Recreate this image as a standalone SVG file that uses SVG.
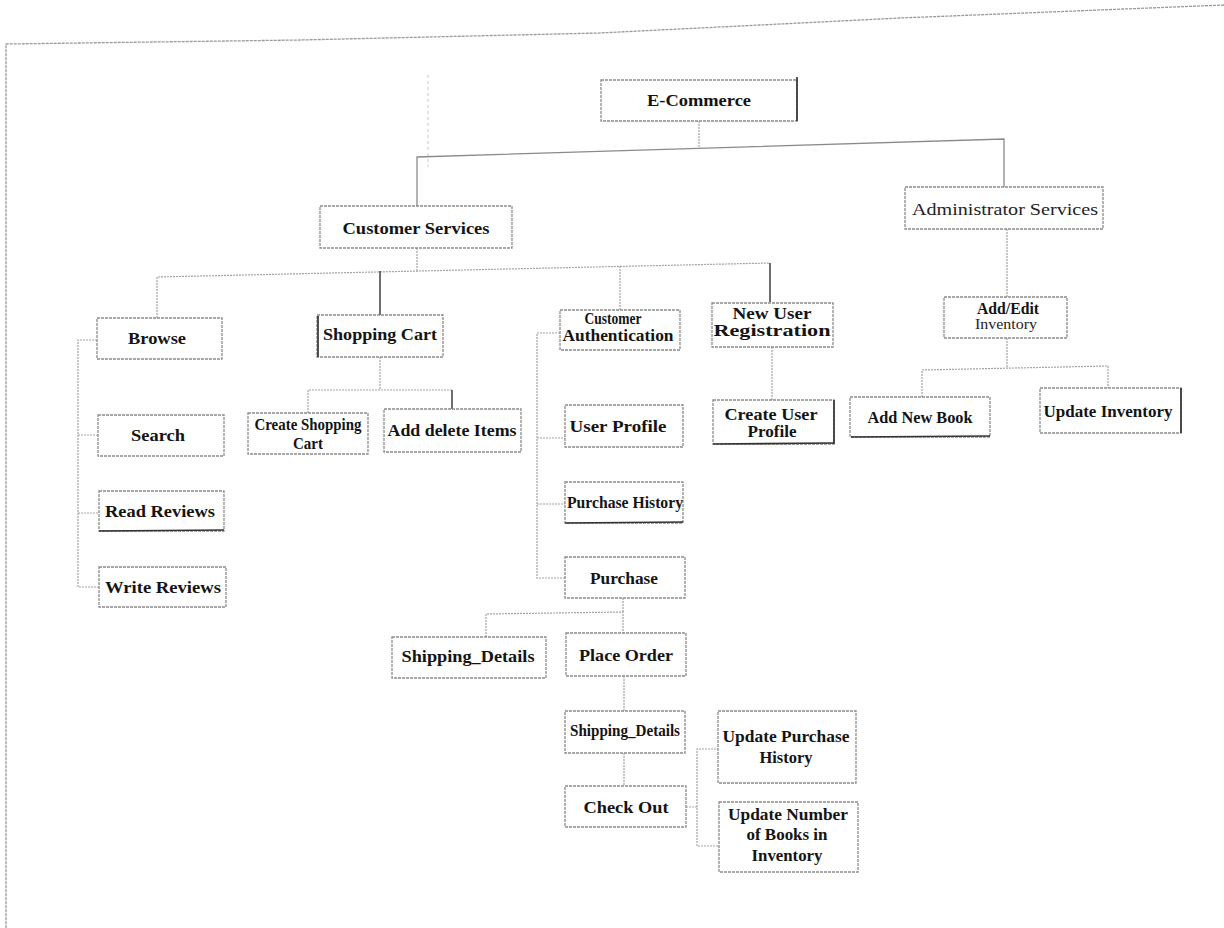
<svg xmlns="http://www.w3.org/2000/svg" width="1224" height="928" viewBox="0 0 1224 928">
<style>
.box{fill:#fff;stroke:#8c8c8c;stroke-width:1.3;stroke-dasharray:3 1}
.dark{fill:none;stroke:#333;stroke-width:1.7}
.conn{fill:none;stroke:#a3a3a3;stroke-width:1.2;stroke-dasharray:2 1}
.conns{fill:none;stroke:#8a8a8a;stroke-width:1.3}
.connd{fill:none;stroke:#555;stroke-width:1.7}
.frame{fill:none;stroke:#999;stroke-width:1.3;stroke-dasharray:3 1}
.t{font-family:"Liberation Serif","Times New Roman",serif;font-weight:bold;font-size:17px;fill:#141414;text-anchor:middle}
.r{font-weight:normal;fill:#222}
</style>
<rect x="0" y="0" width="1224" height="928" fill="#fff"/>
<g id="frame">
<polyline class="frame" points="1224,5 900,18 600,33 300,40 6,44 6,928"/>
<line x1="428" y1="75" x2="428" y2="167" stroke="#c8c8c8" stroke-width="1" stroke-dasharray="3 3"/>
</g>
<g id="connectors">
<polyline class="conn" points="699,121 699,148"/>
<polyline class="conns" points="417,207 417,157 1004,139 1004,187"/>
<polyline class="conn" points="417,248 417,272"/>
<polyline class="conn" points="157,318 157,277 770,263"/>
<polyline class="connd" points="770,263 770,302"/>
<polyline class="connd" points="380,271 380,315"/>
<polyline class="conn" points="620,266 620,310"/>
<polyline class="conn" points="1007,229 1007,297"/>
<polyline class="conn" points="1007,338 1007,368"/>
<polyline class="conn" points="922,397 922,370 1108,366 1108,388"/>
<polyline class="conn" points="772,347 772,400"/>
<polyline class="conn" points="97,340 78,340 78,587 99,587"/>
<polyline class="conn" points="78,435 98,435"/>
<polyline class="conn" points="78,513 99,513"/>
<polyline class="conn" points="380,357 380,390"/>
<polyline class="conn" points="308,413 308,390 452,390"/>
<polyline class="connd" points="452,390 452,409"/>
<polyline class="conn" points="560,333 537,333 537,578 565,578"/>
<polyline class="conn" points="537,438 565,438"/>
<polyline class="conn" points="537,504 565,504"/>
<polyline class="conn" points="623,598 623,612"/>
<polyline class="conn" points="486,637 486,614 623,612 623,633"/>
<polyline class="conn" points="624,676 624,711"/>
<polyline class="conn" points="624,753 624,786"/>
<polyline class="conn" points="686,807 697,807"/>
<polyline class="conn" points="719,749 697,749 697,846 719,846"/>
</g>
<g id="n-ecommerce"><rect class="box" x="601" y="80" width="196" height="41"/><line class="dark" x1="797" y1="77" x2="797" y2="121"/><text class="t" x="699" y="106" textLength="104" lengthAdjust="spacingAndGlyphs">E-Commerce</text></g>
<g id="n-customer-services"><rect class="box" x="320" y="206" width="192" height="42"/><text class="t" x="416" y="234" textLength="147" lengthAdjust="spacingAndGlyphs">Customer Services</text></g>
<g id="n-admin-services"><rect class="box" x="905" y="187" width="198" height="42"/><text class="t r" x="1005" y="215" textLength="186" lengthAdjust="spacingAndGlyphs">Administrator Services</text></g>
<g id="n-browse"><rect class="box" x="97" y="318" width="125" height="41"/><text class="t" x="157" y="344" textLength="58" lengthAdjust="spacingAndGlyphs">Browse</text></g>
<g id="n-shopping-cart"><rect class="box" x="317" y="315" width="126" height="42"/><line class="dark" x1="318" y1="316" x2="318" y2="357"/><text class="t" x="380" y="340" textLength="114" lengthAdjust="spacingAndGlyphs">Shopping Cart</text></g>
<g id="n-customer-auth"><rect class="box" x="560" y="310" width="120" height="40"/><text class="t" x="613" y="324" textLength="57" lengthAdjust="spacingAndGlyphs">Customer</text><text class="t" x="618" y="341" textLength="111" lengthAdjust="spacingAndGlyphs">Authentication</text></g>
<g id="n-new-user"><rect class="box" x="712" y="303" width="121" height="44"/><text class="t" x="772" y="319" textLength="79" lengthAdjust="spacingAndGlyphs">New User</text><text class="t" x="772" y="336" textLength="117" lengthAdjust="spacingAndGlyphs">Registration</text></g>
<g id="n-add-edit"><rect class="box" x="944" y="297" width="123" height="41"/><text class="t" x="1008" y="314" textLength="62" lengthAdjust="spacingAndGlyphs">Add/Edit</text><text class="t r" x="1006" y="329" style="font-size:15px" textLength="62" lengthAdjust="spacingAndGlyphs">Inventory</text></g>
<g id="n-add-book"><rect class="box" x="850" y="397" width="140" height="40"/><line class="dark" x1="851" y1="437" x2="990" y2="436"/><text class="t" x="920" y="423" textLength="105" lengthAdjust="spacingAndGlyphs">Add New Book</text></g>
<g id="n-update-inv"><rect class="box" x="1040" y="388" width="141" height="45"/><line class="dark" x1="1181" y1="388" x2="1181" y2="433"/><text class="t" x="1108" y="417" textLength="129" lengthAdjust="spacingAndGlyphs">Update Inventory</text></g>
<g id="n-create-user"><rect class="box" x="713" y="400" width="121" height="44"/><line class="dark" x1="834" y1="400" x2="834" y2="444"/><line class="dark" x1="713" y1="444" x2="834" y2="443"/><text class="t" x="771" y="420" textLength="93" lengthAdjust="spacingAndGlyphs">Create User</text><text class="t" x="772" y="437" textLength="49" lengthAdjust="spacingAndGlyphs">Profile</text></g>
<g id="n-search"><rect class="box" x="98" y="415" width="126" height="41"/><text class="t" x="158" y="441" textLength="54" lengthAdjust="spacingAndGlyphs">Search</text></g>
<g id="n-read-reviews"><rect class="box" x="99" y="491" width="125" height="40"/><line class="dark" x1="99" y1="531" x2="224" y2="530"/><text class="t" x="160" y="517" textLength="110" lengthAdjust="spacingAndGlyphs">Read Reviews</text></g>
<g id="n-write-reviews"><rect class="box" x="99" y="567" width="127" height="40"/><text class="t" x="163" y="593" textLength="116" lengthAdjust="spacingAndGlyphs">Write Reviews</text></g>
<g id="n-create-cart"><rect class="box" x="248" y="413" width="120" height="41"/><text class="t" x="308" y="430" textLength="107" lengthAdjust="spacingAndGlyphs">Create Shopping</text><text class="t" x="308" y="449" textLength="30" lengthAdjust="spacingAndGlyphs">Cart</text></g>
<g id="n-add-delete"><rect class="box" x="384" y="409" width="137" height="43"/><text class="t" x="452" y="436" textLength="129" lengthAdjust="spacingAndGlyphs">Add delete Items</text></g>
<g id="n-user-profile"><rect class="box" x="565" y="405" width="118" height="42"/><text class="t" x="618" y="432" textLength="97" lengthAdjust="spacingAndGlyphs">User Profile</text></g>
<g id="n-purchase-history"><rect class="box" x="565" y="482" width="118" height="41"/><line class="dark" x1="565" y1="523" x2="683" y2="522"/><text class="t" x="625" y="508" textLength="116" lengthAdjust="spacingAndGlyphs">Purchase History</text></g>
<g id="n-purchase"><rect class="box" x="565" y="557" width="120" height="41"/><text class="t" x="624" y="584" textLength="68" lengthAdjust="spacingAndGlyphs">Purchase</text></g>
<g id="n-shipping-1"><rect class="box" x="392" y="637" width="154" height="41"/><text class="t" x="468" y="662" textLength="133" lengthAdjust="spacingAndGlyphs">Shipping_Details</text></g>
<g id="n-place-order"><rect class="box" x="566" y="633" width="120" height="43"/><text class="t" x="626" y="661" textLength="94" lengthAdjust="spacingAndGlyphs">Place Order</text></g>
<g id="n-shipping-2"><rect class="box" x="565" y="711" width="120" height="42"/><text class="t" x="625" y="736" textLength="110" lengthAdjust="spacingAndGlyphs">Shipping_Details</text></g>
<g id="n-checkout"><rect class="box" x="565" y="786" width="121" height="41"/><text class="t" x="626" y="813" textLength="85" lengthAdjust="spacingAndGlyphs">Check Out</text></g>
<g id="n-update-ph"><rect class="box" x="718" y="711" width="138" height="72"/><text class="t" x="786" y="742" textLength="127" lengthAdjust="spacingAndGlyphs">Update Purchase</text><text class="t" x="786" y="763" textLength="53" lengthAdjust="spacingAndGlyphs">History</text></g>
<g id="n-update-books"><rect class="box" x="719" y="802" width="139" height="70"/><text class="t" x="788" y="820" textLength="120" lengthAdjust="spacingAndGlyphs">Update Number</text><text class="t" x="787" y="840" textLength="81" lengthAdjust="spacingAndGlyphs">of Books in</text><text class="t" x="787" y="861" textLength="71" lengthAdjust="spacingAndGlyphs">Inventory</text></g>
</svg>
